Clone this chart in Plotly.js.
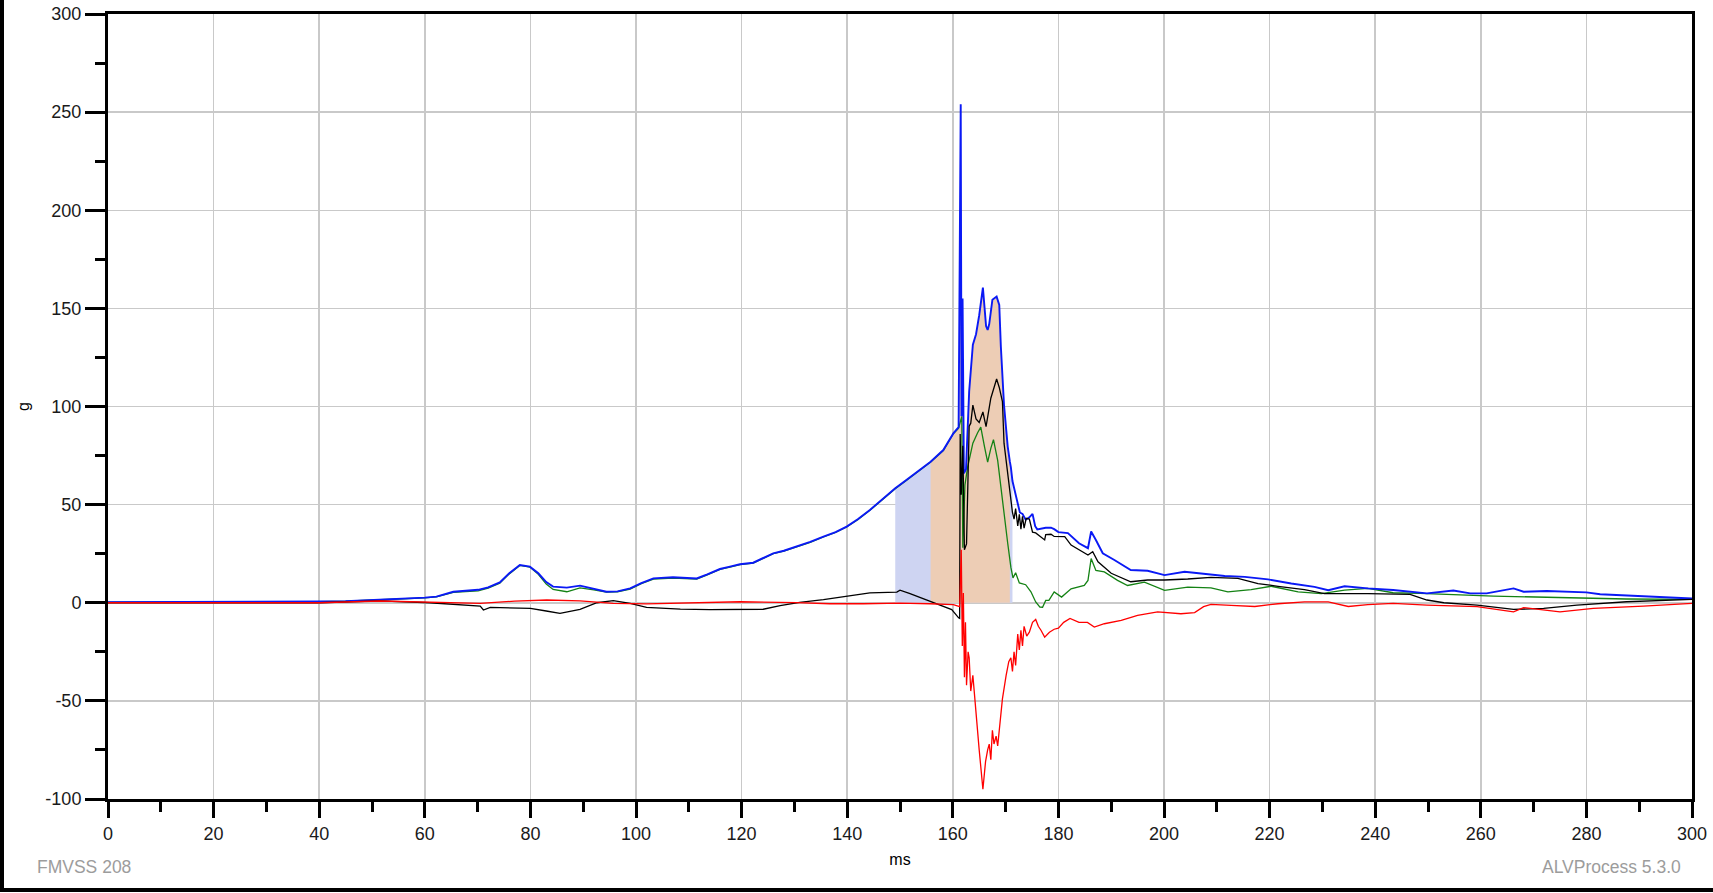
<!DOCTYPE html>
<html>
<head>
<meta charset="utf-8">
<script src="https://cdn.plot.ly/plotly-3.0.1.min.js"></script>
<style>
html,body{margin:0;padding:0;background:#fff;}
#wrap{position:relative;width:1713px;height:893px;overflow:hidden;}
#chart{position:absolute;left:0;top:0;width:1713px;height:893px;}
#frame{position:absolute;left:0;top:0;width:1709px;height:888px;border-left:4px solid #000;border-bottom:4px solid #000;pointer-events:none;}
</style>
</head>
<body>
<div id="wrap"><div id="chart"></div><div id="frame"></div></div>
<script>
// ---- data (time in ms, acceleration in g) ----
const blueT = [0,10,20,30,40,45,50,55,60,62.2,65.4,70.1,72,74.2,76,78,79.9,81.5,83,84.3,86.9,89.4,92,94.4,96.5,98.9,101,103.3,107,111.5,113.5,115.9,117.8,119.7,122.2,124,126,128,130.4,133,135.5,137.8,139.9,142,144.3,146.5,149.1,151.2,153.2,155.8,158.2,160.1,161.1,161.5,161.65,161.85,162.1,162.5,163.1,163.5,163.8,164.4,165,165.7,166.0,166.3,166.6,166.9,167.5,168.3,168.8,169.1,169.7,170.4,170.8,171.0,171.3,171.6,172.3,172.7,173.2,173.8,174.5,175.1,175.6,176,177.6,178.6,179.2,180,181.8,183.9,185.6,186.2,187.1,188.4,190.6,193.7,196.9,200.1,203.9,207.7,211.5,215.3,219.7,224.1,228.5,231.1,234.2,238.6,243.4,249.8,254.8,258,261.1,266.2,268.1,272.5,280,282.6,290.8,300];
const blueG = [0.3,0.3,0.3,0.4,0.6,0.8,1.3,2,2.6,3.1,5.6,6.6,7.8,10.4,15,19.2,18.4,15,10.5,8.2,7.7,8.7,7,5.6,5.8,7.3,10,12.4,13,12.4,14.5,17.2,18.4,19.6,20.4,22.5,25.2,26.5,28.6,31,33.7,36,38.8,42.5,47.3,52.5,58.3,62.5,66.8,71.9,77.8,86.3,89.5,254,95,155,66,68,107.7,122,131.5,136.8,146.5,160.6,150,141,139,142,154.4,156,151.8,130.6,100.7,79.6,72,69,62,58.5,51.4,46,45.3,42.3,43.5,45.3,39,37.4,38.2,38.3,37.5,36,35.5,30.3,27.8,36.3,32,25.2,21.8,16.7,16.3,14.1,15.8,14.6,13.6,13.2,11.9,9.8,8.1,6.4,8.4,7.3,6.5,4.8,6.2,4.8,4.8,7.3,5.6,6,5.3,4.3,3.4,2.2];

const blackT = [0,40,51.5,60.9,70.5,71.1,72.4,76,80,83,85.6,89.4,92.6,95.7,98.9,102,108.4,114,119.7,124.1,127.3,131,135.5,139.9,144.3,149.4,150,151.9,155.7,158.2,159.8,161.1,161.3,161.4,161.6,161.9,162.2,162.6,163.1,163.4,163.8,164.4,165,165.7,166.3,167.2,168.3,168.8,169.4,169.7,170.4,171,171.3,171.6,171.9,172.3,172.6,172.9,173.2,173.5,173.9,174.5,175.1,175.7,177.4,177.6,178.6,179.2,181.2,182.4,185.6,186.5,187.5,190,193.7,196.9,200.1,204.5,208.9,214,217.8,221.6,226.6,230.4,238.6,246.6,249.8,253,259.3,266.2,271.9,278.2,287.6,300];
const blackG = [0,0,1.0,0,-1.7,-3.7,-2.4,-2.6,-2.9,-4.2,-5.4,-3.4,0,1.1,-0.3,-2.4,-3.2,-3.5,-3.6,-3.3,-1.5,0.2,1.6,3.3,5,5.4,6.4,4.7,0.8,-1.8,-3.5,-7.7,-8,86,55,80,27,30,90,91.5,100.7,93.7,91.9,97.2,89.7,104.2,114,109.7,102.5,81.3,65.5,53.2,46,42.6,48,39.1,45,37.5,44,38,43,42.6,36,35.6,32,34.7,34.9,33.8,33.7,29.4,24.3,26,20.9,15,10.7,11.6,11.6,12.1,12.9,12.4,9.8,8.4,6.7,4.7,4.7,4.3,1.4,0,-1.2,-3.4,-2.9,-1.2,0.5,1.7];

const greenT = [0,10,20,30,40,45,50,55,60,62.2,65.4,70.1,72,74.2,76,78,79.9,81.5,83,84.3,86.9,89.4,92,94.4,96.5,98.9,101,103.3,107,111.5,113.5,115.9,117.8,119.7,122.2,124,126,128,130.4,133,135.5,137.8,139.9,142,144.3,146.5,149.1,151.2,153.2,155.8,158.2,160.1,161.1,161.7,161.9,162.3,162.8,163.8,164.7,165.3,166,166.6,167.2,167.7,168.5,169.4,170.4,171,171.4,171.9,172.6,173.8,174.8,175.7,176.5,177,177.6,178.2,179.2,180.6,182.4,184.9,185.6,186.2,187.1,188.7,191.2,193.1,196.3,200.1,204.5,208.9,212.1,216.5,220.3,225.4,229.8,234.2,238.6,243.4,248.5,262.4,267.5,275,287.6,300];
const greenG = [0.3,0.3,0.3,0.4,0.6,0.8,1.2,1.9,2.5,3.0,5.3,6.1,7.4,10.0,14.7,19.0,18.2,14.5,9.5,6.8,5.6,7.6,6.6,5.4,5.6,7.0,9.7,12.0,12.6,12.0,14.2,17.0,18.2,19.4,20.2,22.3,25.0,26.3,28.4,30.8,33.5,35.8,38.6,42.3,47.1,52.3,58.1,62.3,66.6,71.7,77.6,86.1,89,95,28,60,69,81.3,86.6,89.5,79.6,71.7,78.7,83.1,72.5,51.4,30.3,18,12.7,15.3,10.1,9.2,5.6,0.4,-2.2,-2.3,1.2,1.2,5.5,2.9,7.1,8.8,11.4,22.5,16.5,15.7,11.4,8.8,10.5,6.3,8,7.6,5.5,6.7,8.4,5.5,4.7,6.4,7.3,5.1,4.8,3.4,3.1,2.6,1.9,1.7];

const redT = [0,40,51.5,60,70.5,77,83.1,89.4,95.7,102,110,119.7,130.4,136.7,143,150,155.7,160.1,161.3,161.6,161.8,162.0,162.2,162.4,162.6,162.9,163.1,163.4,163.8,164.4,165,165.7,166.2,166.6,166.9,167.2,167.5,167.8,168.2,168.5,168.8,169.4,170.1,170.6,171,171.3,171.6,171.9,172.3,172.6,172.9,173.2,173.5,174,174.5,175.1,175.7,176.2,176.7,177.4,178.3,179.2,180,181,182.2,183.9,185.5,186.8,188.7,191.9,195,198.8,203.2,205.8,207.5,208.9,212.7,217.2,221.6,226.6,231.1,234.9,238.6,243.4,249.8,259.3,266.2,268.1,275,281.3,290.8,300];
const redG = [0,0,0.9,0.5,-0.3,0.8,1.4,1.0,-0.3,-0.6,0,0.5,0.1,-0.5,-0.5,-0.2,-0.5,-1,-2,27,-22,5,-38,-10,-42,-25,-28,-45,-37,-54,-75,-95,-81,-75,-72,-80,-65,-72,-68,-73,-66,-49,-37,-30,-28,-35,-25,-32,-16,-24,-14,-22,-12,-17,-15,-10,-8.5,-12,-14,-17.5,-15,-13.5,-12.9,-10,-8,-10,-10,-12.4,-10.7,-9,-6.4,-4.7,-5.6,-5,-2,-0.8,-1.3,-1.9,-0.5,0.4,0.4,-1.9,-1,-0.3,-1.2,-2,-4.6,-2.5,-4.6,-2.9,-1.7,-0.3];

// HIC windows (ms)
const hicWide = [149.1, 171.3];
const hicNarrow = [155.8, 170.8];

const xTickVals = [0,20,40,60,80,100,120,140,160,180,200,220,240,260,280,300];
const yTickVals = [-100,-50,0,50,100,150,200,250,300];
const footLeft = "FMVSS 208";
const footRight = "ALVProcess 5.3.0";

// ---- build traces ----
function windowed(win){
  const xs=[], ys=[];
  for(let i=0;i<blueT.length;i++){
    if(blueT[i]>=win[0] && blueT[i]<=win[1]){xs.push(blueT[i]); ys.push(blueG[i]);}
  }
  return {xs, ys};
}
const w1 = windowed(hicWide), w2 = windowed(hicNarrow);

const traces = [
  {x:w1.xs, y:w1.ys, type:'scatter', mode:'lines', fill:'tozeroy', fillcolor:'rgb(206,212,242)', line:{width:0}, hoverinfo:'skip', showlegend:false},
  {x:w2.xs, y:w2.ys, type:'scatter', mode:'lines', fill:'tozeroy', fillcolor:'rgb(237,205,181)', line:{width:0}, hoverinfo:'skip', showlegend:false},
  {x:greenT, y:greenG, type:'scatter', mode:'lines', line:{color:'rgb(20,130,20)', width:1.3}, showlegend:false},
  {x:blueT, y:blueG, type:'scatter', mode:'lines', line:{color:'rgb(10,25,245)', width:1.9}, showlegend:false},
  {x:blackT, y:blackG, type:'scatter', mode:'lines', line:{color:'#000', width:1.3}, showlegend:false},
  {x:redT, y:redG, type:'scatter', mode:'lines', line:{color:'rgb(255,0,0)', width:1.3}, showlegend:false}
];

const fam = 'Liberation Sans, Arial, sans-serif';
const tickFont = {family:fam, size:18, color:'#1a1a1a'};

const layout = {
  width:1713, height:893,
  margin:{l:108, r:21, t:14, b:94},
  paper_bgcolor:'#fff', plot_bgcolor:'#fff',
  showlegend:false,
  xaxis:{
    range:[0,300], tickvals:xTickVals, ticktext:xTickVals.map(String),
    showgrid:true, gridcolor:'#c9c9c9', gridwidth:1.5, zeroline:false,
    showline:true, linecolor:'#000', linewidth:3, mirror:true,
    ticks:'outside', ticklen:16, tickwidth:3, tickcolor:'#000',
    minor:{dtick:10, tick0:0, ticks:'outside', ticklen:10, tickwidth:3, tickcolor:'#000', showgrid:false},
    tickfont:tickFont,
    title:{text:'ms', font:{family:fam, size:16, color:'#000'}, standoff:12},
    automargin:false, fixedrange:true
  },
  yaxis:{
    range:[-100,300], tickvals:yTickVals, ticktext:yTickVals.map(String),
    showgrid:true, gridcolor:'#c9c9c9', gridwidth:1.5, zeroline:false,
    showline:true, linecolor:'#000', linewidth:3, mirror:true,
    ticks:'outside', ticklen:20, tickwidth:3, tickcolor:'#000',
    minor:{dtick:25, tick0:0, ticks:'outside', ticklen:10, tickwidth:3, tickcolor:'#000', showgrid:false},
    tickfont:tickFont,
    title:{text:'g', font:{family:fam, size:16, color:'#000'}, standoff:12},
    automargin:false, fixedrange:true
  },
  annotations:[
    {text:footLeft, xref:'paper', yref:'paper', x:(35-108)/1584, y:-(867-799)/785, xanchor:'left', yanchor:'middle', showarrow:false,
     font:{family:fam, size:17.5, color:'#9c9c9c'}},
    {text:footRight, xref:'paper', yref:'paper', x:(1683-108)/1584, y:-(867-799)/785, xanchor:'right', yanchor:'middle', showarrow:false,
     font:{family:fam, size:17.5, color:'#9c9c9c'}}
  ]
};

Plotly.newPlot('chart', traces, layout, {displayModeBar:false, staticPlot:true});
</script>
</body>
</html>
